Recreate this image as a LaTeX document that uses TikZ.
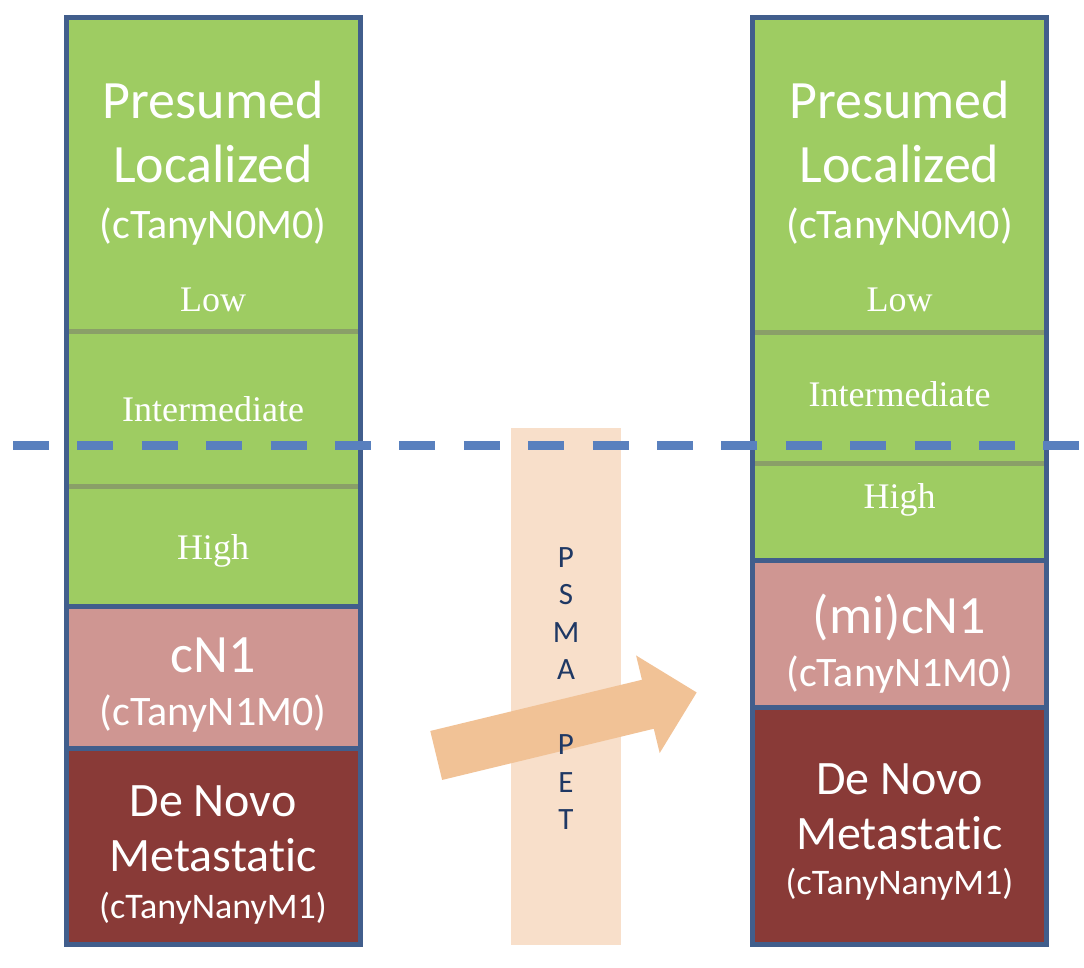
\documentclass[tikz,border=0pt]{standalone}
\usepackage{fontspec}
\setmainfont{Liberation Serif}
\newfontfamily\calibri[Ligatures=NoCommon]{Carlito}
\usetikzlibrary{positioning,shapes.arrows}

\definecolor{stageblue}{HTML}{415E8C}
\definecolor{localgreen}{HTML}{9ECC62}
\definecolor{divgreen}{HTML}{8A9F68}
\definecolor{nodalpink}{HTML}{CF9692}
\definecolor{metared}{HTML}{893A37}
\definecolor{cutblue}{HTML}{5980BE}
\definecolor{petband}{HTML}{F8DFCA}
\definecolor{petarrow}{HTML}{F1C296}
\definecolor{petnavy}{HTML}{1F3864}

\tikzset{
  stage/.style={draw=stageblue, line width=5pt, minimum width=294pt, inner sep=0pt, outer sep=0pt},
  divider/.style={divgreen, line width=5pt, shorten <=2.5pt, shorten >=2.5pt},
  big/.style={text=white, font=\calibri\fontsize{54}{64}\selectfont, anchor=base},
  meta/.style={text=white, font=\calibri\fontsize{48}{56}\selectfont, anchor=base},
  code/.style={text=white, font=\calibri\fontsize{42}{50}\selectfont, anchor=base},
  codesmall/.style={text=white, font=\calibri\fontsize{36}{44}\selectfont, anchor=base},
  grade/.style={text=white, font=\fontsize{36}{42}\selectfont, anchor=base},
}

\begin{document}
\begin{tikzpicture}[x=1pt,y=-1pt]
\useasboundingbox (0,0) rectangle (1084,967);
% PSMA PET band
\node[fill=petband, minimum width=110pt, minimum height=517pt, inner sep=0pt] (psmaBand) at (566,686.5) {};
\node[single arrow, fill=petarrow, rotate=13.6, anchor=tail, minimum height=268pt,
      inner sep=25pt, single arrow head extend=25pt] (petShift) at (436,755.5) {};
\node[text=petnavy, font=\calibri\fontsize{31}{37.5}\selectfont, align=center, inner sep=0pt,
      anchor=north] (psmaText) at (566,547) {P\\S\\M\\A\\[37.5pt]P\\E\\T};
% left column
\node[stage, fill=localgreen, minimum height=589pt, anchor=north] (lLocal) at (213,17) {};
\node[stage, fill=nodalpink, minimum height=142pt, below=0pt of lLocal] (lNodal) {};
\node[stage, fill=metared, minimum height=196pt, below=0pt of lNodal] (lMeta) {};
\draw[divider] (66,331) -- (360,331);
\draw[divider] (66,486) -- (360,486);
\node[big] (lPresumed) at (213,118) {Presumed};
\node[big] (lLocalized) at (213,182) {Localized};
\node[code] (lCodeLoc) at (213,238) {(cTanyN0M0)};
\node[grade] (lLow) at (213,311) {Low};
\node[grade] (lInter) at (213,421) {Intermediate};
\node[grade] (lHigh) at (213,559) {High};
\node[big] (lcN) at (213,672) {cN1};
\node[code] (lCodeN) at (213,725) {(cTanyN1M0)};
\node[meta] (lDeNovo) at (213,816) {De Novo};
\node[meta] (lMetastatic) at (213,871) {Metastatic};
\node[codesmall] (lCodeM) at (213,918) {(cTanyNanyM1)};
% right column
\node[stage, fill=localgreen, minimum height=543pt, anchor=north] (rLocal) at (899.5,17) {};
\node[stage, fill=nodalpink, minimum height=147pt, below=0pt of rLocal] (rNodal) {};
\node[stage, fill=metared, minimum height=237pt, below=0pt of rNodal] (rMeta) {};
\draw[divider] (752.5,332) -- (1046.5,332);
\draw[divider] (752.5,463) -- (1046.5,463);
\node[big] (rPresumed) at (899.5,118) {Presumed};
\node[big] (rLocalized) at (899.5,182) {Localized};
\node[code] (rCodeLoc) at (899.5,238) {(cTanyN0M0)};
\node[grade] (rLow) at (899.5,311) {Low};
\node[grade] (rInter) at (899.5,406) {Intermediate};
\node[grade] (rHigh) at (899.5,508) {High};
\node[big] (rcN) at (899.5,633) {(mi)cN1};
\node[code] (rCodeN) at (899.5,686) {(cTanyN1M0)};
\node[meta] (rDeNovo) at (899.5,794) {De Novo};
\node[meta] (rMetastatic) at (899.5,849) {Metastatic};
\node[codesmall] (rCodeM) at (899.5,894) {(cTanyNanyM1)};
% cut-off line
\coordinate (cutL) at (13,445);
\coordinate (cutR) at (1080,445);
\draw[cutblue, line width=9pt, dash pattern=on 36pt off 28.4pt] (cutL) -- (cutR);
\end{tikzpicture}
\end{document}
